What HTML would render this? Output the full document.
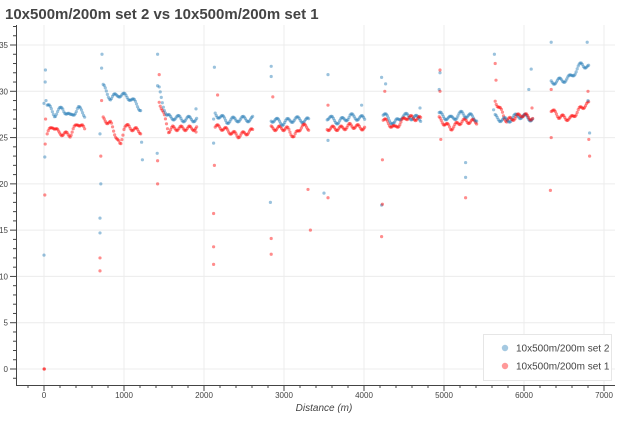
<!DOCTYPE html>
<html><head><meta charset="utf-8"><style>
body{margin:0;background:#fff;width:619px;height:417px;overflow:hidden;font-family:"Liberation Sans",sans-serif}
</style></head><body>
<svg id="s" width="619" height="417" xmlns="http://www.w3.org/2000/svg" font-family="Liberation Sans, sans-serif">
<text x="5" y="19" font-size="15" font-weight="bold" fill="#444">10x500m/200m set 2 vs 10x500m/200m set 1</text>
<g id="grid" stroke="#ececec" stroke-width="1"></g>
<g id="pts"></g>
<g id="ax" stroke="#444" stroke-width="1" fill="none"></g>
<g id="lbl" font-size="8" fill="#444"></g>
<text x="324" y="411" font-size="10" font-style="italic" fill="#444" text-anchor="middle">Distance (m)</text>
<rect x="483.5" y="334.5" width="128" height="46" fill="#fff" stroke="#e6e6e6"/>
<circle cx="505" cy="348" r="3.2" fill="#1f77b4" fill-opacity="0.4"/>
<circle cx="505" cy="366" r="3.2" fill="#ff0000" fill-opacity="0.4"/>
<text x="516" y="351.5" font-size="10" fill="#444">10x500m/200m set 2</text>
<text x="516" y="369.5" font-size="10" fill="#444">10x500m/200m set 1</text>
</svg>
<script>
const NS="http://www.w3.org/2000/svg";
const X=v=>44+v*0.0800, Y=v=>369-v*9.257;
const L=16,R=615,T=25,B=385;
function el(p,t,a){const e=document.createElementNS(NS,t);for(const k in a)e.setAttribute(k,a[k]);p.appendChild(e);return e;}
const g=document.getElementById('grid'),ax=document.getElementById('ax'),lb=document.getElementById('lbl');
for(let v=0;v<=7000;v+=1000){el(g,'line',{x1:X(v),x2:X(v),y1:T,y2:B});}
for(let v=0;v<=35;v+=5){el(g,'line',{x1:L,x2:R,y1:Y(v),y2:Y(v)});}
el(ax,'line',{x1:L+.5,x2:L+.5,y1:T,y2:B+.5});
el(ax,'line',{x1:L,x2:R,y1:B+.5,y2:B+.5});
for(let v=-200;v<=7000;v+=200){const x=X(v);el(ax,'line',{x1:x,x2:x,y1:B,y2:B+(v%1000==0?6:3)});}
for(let v=-1;v<=37;v++){const y=Y(v);el(ax,'line',{x1:L-(v%5==0?6:3),x2:L,y1:y,y2:y});}
for(let v=0;v<=7000;v+=1000){const t=el(lb,'text',{x:X(v),y:B+13,'text-anchor':'middle'});t.textContent=v;}
for(let v=0;v<=35;v+=5){const t=el(lb,'text',{x:L-8,y:Y(v)+3,'text-anchor':'end'});t.textContent=v;}
const P=document.getElementById('pts');
function dot(d,v,c){el(P,'circle',{cx:X(d),cy:Y(v),r:1.6,fill:c,'fill-opacity':0.45});}
function interp(k,f){for(let i=1;i<k.length;i++){if(f<=k[i][0]){const a=k[i-1],b=k[i];return a[1]+(b[1]-a[1])*(f-a[0])/(b[0]-a[0]);}}return k[k.length-1][1];}
const segs=[
[0,[[0,28.5],[.2,27.5],[.4,28.2],[.6,27.2],[.8,28.2],[1,27.4]],[[0,25.4],[.15,26.3],[.3,25.5],[.6,25.3],[.8,26.6],[1,25.8]]],
[700,[[0,30.5],[.2,29.2],[.4,29.7],[.7,29.3],[1,28]],[[0,27],[.2,26.5],[.45,24],[.55,26.3],[1,25.6]]],
[1400,[[0,30.2],[.2,27.2],[.4,27.2],[.6,27],[1,27]],[[0,29],[.25,25.7],[.35,26],[1,26]]],
[2100,[[0,27.6],[.3,26.8],[.6,27],[1,27]],[[0,26.2],[.2,26],[.6,25.2],[1,25.8]]],
[2800,[[0,27],[.3,26.6],[.6,27],[1,26.8]],[[0,26],[.4,26],[.6,25.1],[.8,26.3],[1,26]]],
[3500,[[0,27.2],[.3,26.7],[.6,27.3],[1,27]],[[0,26],[.4,26],[.6,26.3],[1,26]]],
[4200,[[0,27.5],[.3,26.5],[.5,27.4],[1,27]],[[0,27],[.3,26],[.6,27.2],[1,27]]],
[4900,[[0,27.5],[.3,27],[.6,27.6],[1,27]],[[0,27],[.3,26],[.6,26.8],[1,26.7]]],
[5600,[[0,27.2],[.3,26.8],[.6,27.4],[1,27]],[[0,29],[.3,26.8],[.7,27.5],[1,27]]],
[6300,[[0,31],[.3,31.2],[.5,31.5],[.8,33],[1,32.5]],[[0,28],[.2,27.3],[.5,27],[.8,28.3],[1,28.7]]]
];
segs.forEach((s,i)=>{for(let d=0;d<=480;d+=13){const f=d/480;
 const nb=Math.sin(d*0.05+i)*0.3, nr=Math.sin(d*0.06+i*2)*0.25;
 dot(s[0]+40+d,interp(s[1],f)+nb,'#1f77b4');dot(s[0]+40+d,interp(s[2],f)+nr,'#ff0000');}});
const ob=[[0,28.7],[10,22.9],[15,31],[18,32.3],[25,29],[0,12.3],[700,25.4],[710,20],[700,14.7],[700,16.3],[720,32.5],[725,34],[1220,24.5],[1230,22.6],[1420,34],[1420,30.6],[1415,23.3],[1900,28.1],[2130,32.6],[2120,27],[2120,24.4],[2840,32.7],[2840,31.6],[2830,18],[3550,31.8],[3550,24.7],[3500,19],[4220,31.5],[4270,30.8],[4220,17.7],[4950,32],[4940,30.2],[5270,20.7],[5270,22.3],[5630,34],[5620,28],[6060,30.2],[6090,32.4],[6340,35.3],[6790,35.3],[6800,29],[6820,25.5],[4700,28.2],[3970,28.5]];
ob.forEach(p=>dot(p[0],p[1],'#1f77b4'));
const orr=[[0,0],[5,0],[10,18.8],[20,27],[15,24.3],[700,10.6],[700,12],[710,23],[720,29],[1420,20],[1420,22.5],[1440,31.8],[1900,25.6],[2120,13.2],[2120,11.3],[2120,16.8],[2130,22],[2170,29.6],[2840,14.1],[2840,12.4],[2860,29.4],[3300,19.4],[3330,15],[3550,28.5],[3550,18.5],[4220,14.3],[4230,17.8],[4230,22.6],[4260,30],[4950,32.3],[4950,30],[4960,24.8],[5270,18.5],[5640,33],[5650,31.2],[6100,28.2],[6340,30.2],[6340,25],[6330,19.3],[6800,30],[6810,24.8],[6820,23]];
orr.forEach(p=>dot(p[0],p[1],'#ff0000'));
</script>
</body></html>
